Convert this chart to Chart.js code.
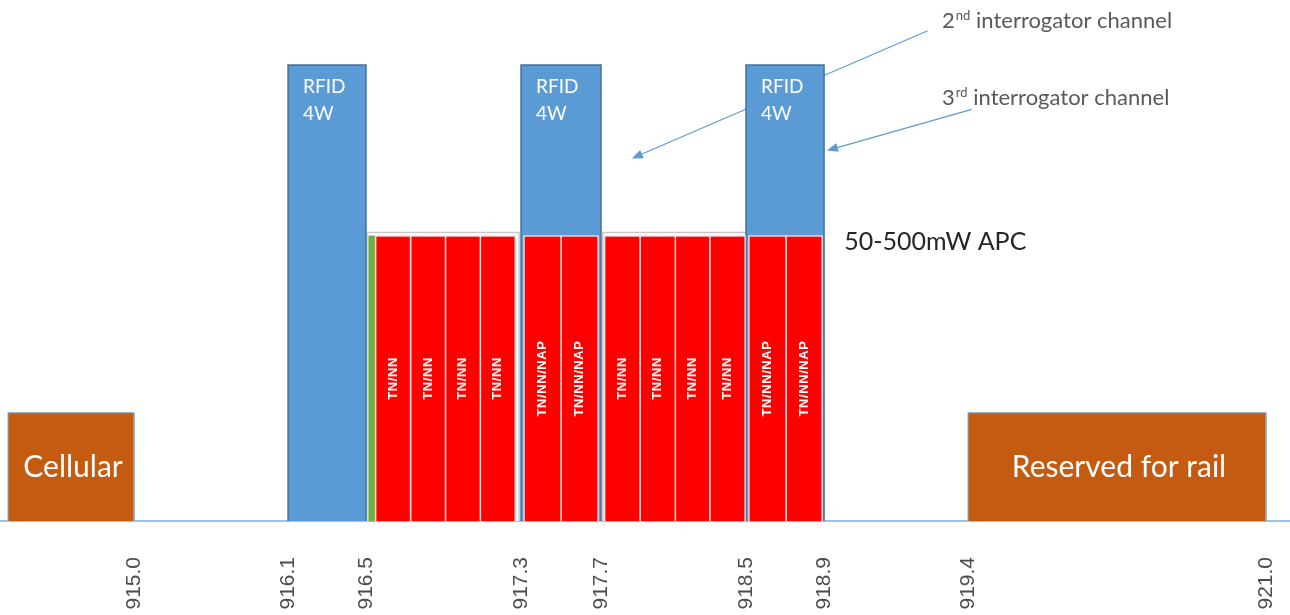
<!DOCTYPE html>
<html>
<head>
<meta charset="utf-8">
<script src="https://cdn.jsdelivr.net/npm/chart.js@4.4.1/dist/chart.umd.min.js"></script>
<style>
html, body { margin: 0; padding: 0; background: #fff; }
#wrap { width: 1290px; height: 615px; }
</style>
</head>
<body>
<div id="wrap"><canvas id="bandPlan"></canvas></div>
<script>
// frequencies labelled under the plan (MHz)
var tickFreqs = [915.0, 916.1, 916.5, 917.3, 917.7, 918.5, 918.9, 919.4, 921.0];

// wide blocks either side of the RFID band
var bandNames = ['Cellular', 'Reserved for rail'];
var bandFrom = [914.1, 919.4];
var bandTo = [915.0, 921.0];
var bandLevel = 0.95;

// 4W interrogator channels
var rfidFrom = [916.1, 917.3, 918.5];
var rfidTo = [916.5, 917.7, 918.9];
var rfidLevel = 4;

// 50-500mW APC channels (as drawn, a little inset in each group)
var chFrom = [916.55, 916.73, 916.91, 917.09, 917.315, 917.5, 917.72, 917.915, 918.11, 918.3, 918.515, 918.705];
var chTo = [916.73, 916.91, 917.09, 917.27, 917.5, 917.685, 917.915, 918.11, 918.3, 918.495, 918.705, 918.89];
var chNames = ['TN/NN', 'TN/NN', 'TN/NN', 'TN/NN', 'TN/NN/NAP', 'TN/NN/NAP',
	'TN/NN', 'TN/NN', 'TN/NN', 'TN/NN', 'TN/NN/NAP', 'TN/NN/NAP'];
var apcLevel = 2.5;

// green guard sliver and the outlines round the APC groups
var guardFrom = [916.515];
var guardTo = [916.545];
var groupFrom = [916.505, 917.71];
var groupTo = [917.29, 918.5];
var groupLevel = 2.53;

// linear axis that is stretched piece by piece between the labelled frequencies
class BrokenLinearScale extends Chart.LinearScale {
	_fraction(value) {
		var v = this.options.anchors, f = this.options.anchorPos, i = 0;
		while (i < v.length - 2 && value > v[i + 1]) i++;
		return f[i] + (value - v[i]) * (f[i + 1] - f[i]) / (v[i + 1] - v[i]);
	}
	getPixelForValue(value) {
		if (value === null || value === undefined) return NaN;
		return this.getPixelForDecimal(this._fraction(value));
	}
	getValueForPixel(pixel) {
		var d = this.getDecimalForPixel(pixel);
		var v = this.options.anchors, f = this.options.anchorPos, i = 0;
		while (i < f.length - 2 && d > f[i + 1]) i++;
		return v[i] + (d - f[i]) * (v[i + 1] - v[i]) / (f[i + 1] - f[i]);
	}
}
BrokenLinearScale.id = 'brokenLinear';
BrokenLinearScale.defaults = Chart.LinearScale.defaults;
Chart.register(BrokenLinearScale);

function box(x0, x1, h) {
	return [{x: x0, y: 0}, {x: x0, y: h}, {x: x1, y: h}, {x: x1, y: 0}];
}

function boxes(from, to, level, style) {
	return from.map(function (x0, i) {
		return Object.assign({
			data: box(x0, to[i], level),
			fill: 'origin',
			pointRadius: 0,
			tension: 0,
			borderJoinStyle: 'miter'
		}, style);
	});
}

var datasets = [].concat(
	boxes(chFrom, chTo, apcLevel, {backgroundColor: '#ff0000', borderColor: 'rgba(255,215,215,0.95)', borderWidth: 1.5, order: 0}),
	boxes(guardFrom, guardTo, apcLevel, {backgroundColor: '#70ad47', borderColor: '#70ad47', borderWidth: 1, order: 1}),
	boxes(rfidFrom, rfidTo, rfidLevel, {backgroundColor: '#5b9bd5', borderColor: '#41719c', borderWidth: 1.5, order: 2}),
	boxes(groupFrom, groupTo, groupLevel, {backgroundColor: '#ffffff', borderColor: '#c8c8c8', borderWidth: 1.5, order: 3}),
	boxes(bandFrom, bandTo, bandLevel, {backgroundColor: '#c55a11', borderColor: '#8ea9c8', borderWidth: 1, order: 4})
);

var planLabels = {
	id: 'planLabels',
	beforeDatasetsDraw: function (chart, args, opts) {
		var ctx = chart.ctx, xs = chart.scales.x, ys = chart.scales.y;
		ctx.save();
		ctx.strokeStyle = opts.arrowColor;
		ctx.fillStyle = opts.arrowColor;
		ctx.lineWidth = 1.2;
		opts.arrows.forEach(function (a) {
			var x0 = xs.getPixelForValue(a.from[0]), y0 = ys.getPixelForValue(a.from[1]);
			var x1 = xs.getPixelForValue(a.to[0]), y1 = ys.getPixelForValue(a.to[1]);
			var c = Math.cos(Math.atan2(y1 - y0, x1 - x0)), s = Math.sin(Math.atan2(y1 - y0, x1 - x0));
			ctx.beginPath();
			ctx.moveTo(x0, y0);
			ctx.lineTo(x1 - 8 * c, y1 - 8 * s);
			ctx.stroke();
			ctx.beginPath();
			ctx.moveTo(x1, y1);
			ctx.lineTo(x1 - 11 * c + 4.5 * s, y1 - 11 * s - 4.5 * c);
			ctx.lineTo(x1 - 11 * c - 4.5 * s, y1 - 11 * s + 4.5 * c);
			ctx.closePath();
			ctx.fill();
		});
		ctx.restore();
	},
	afterDatasetsDraw: function (chart, args, opts) {
		var ctx = chart.ctx, xs = chart.scales.x, ys = chart.scales.y;
		ctx.save();
		ctx.textBaseline = 'middle';

		// band names
		ctx.fillStyle = '#ffffff';
		ctx.textAlign = 'center';
		ctx.font = '30px Lato';
		bandNames.forEach(function (name, i) {
			var cx = (xs.getPixelForValue(bandFrom[i]) + xs.getPixelForValue(bandTo[i])) / 2;
			ctx.fillText(name, cx + 2, ys.getPixelForValue(bandLevel / 2));
		});

		// RFID 4W
		ctx.textAlign = 'left';
		ctx.font = '19px Lato';
		rfidFrom.forEach(function (f) {
			var left = xs.getPixelForValue(f) + 15, top = ys.getPixelForValue(rfidLevel);
			ctx.fillText('RFID', left, top + 22);
			ctx.fillText('4W', left, top + 49);
		});

		// channel names, rotated
		ctx.textAlign = 'center';
		ctx.font = 'bold 13px "Liberation Sans"';
		ctx.letterSpacing = '0.6px';
		chNames.forEach(function (name, i) {
			var cx = (xs.getPixelForValue(chFrom[i]) + xs.getPixelForValue(chTo[i])) / 2;
			ctx.save();
			ctx.translate(cx, ys.getPixelForValue(apcLevel / 2));
			ctx.rotate(-Math.PI / 2);
			ctx.fillText(name, 0, 0);
			ctx.restore();
		});
		ctx.letterSpacing = '0px';

		// APC note
		ctx.textAlign = 'left';
		ctx.fillStyle = '#262626';
		ctx.font = '25px Lato';
		ctx.fillText(opts.apc.text, xs.getPixelForValue(opts.apc.at[0]), ys.getPixelForValue(opts.apc.at[1]));

		// interrogator notes with superscripts
		ctx.fillStyle = '#595959';
		opts.notes.forEach(function (n) {
			var px = xs.getPixelForValue(n.at[0]), py = ys.getPixelForValue(n.at[1]);
			ctx.font = '22px Lato';
			ctx.fillText(n.lead, px, py);
			px += ctx.measureText(n.lead).width + 1;
			ctx.font = '13px Lato';
			ctx.fillText(n.sup, px, py - 5);
			px += ctx.measureText(n.sup).width;
			ctx.font = '22px Lato';
			ctx.fillText(' ' + n.text, px, py);
		});
		ctx.restore();
	}
};

var planChart = new Chart(document.getElementById('bandPlan').getContext('2d'), {
	type: 'line',
	data: {datasets: datasets},
	plugins: [planLabels],
	options: {
		responsive: true,
		maintainAspectRatio: false,
		animation: false,
		events: [],
		layout: {padding: 0},
		plugins: {
			legend: {display: false},
			tooltip: {enabled: false},
			planLabels: {
				arrowColor: '#5b9bd5',
				arrows: [
					{from: [919.26, 4.30], to: [917.87, 3.18]},
					{from: [919.42, 3.61], to: [918.91, 3.25]}
				],
				notes: [
					{lead: '2', sup: 'nd', text: 'interrogator channel', at: [919.31, 4.39]},
					{lead: '3', sup: 'rd', text: 'interrogator channel', at: [919.31, 3.71]}
				],
				apc: {text: '50-500mW APC', at: [918.97, 2.45]}
			}
		},
		scales: {
			x: {
				type: 'brokenLinear',
				min: 914.05,
				max: 921.13,
				anchors: tickFreqs,
				anchorPos: [0.1039, 0.2233, 0.2837, 0.4039, 0.4659, 0.5783, 0.6388, 0.7504, 0.9814],
				afterBuildTicks: function (axis) {
					axis.ticks = tickFreqs.map(function (v) { return {value: v}; });
				},
				afterFit: function (axis) {
					axis.height = 94;
					axis.paddingLeft = 0;
					axis.paddingRight = 0;
				},
				grid: {color: 'rgba(0,0,0,0)', drawTicks: false},
				border: {color: '#9dc3e6', width: 2},
				ticks: {
					autoSkip: false,
					minRotation: 90,
					maxRotation: 90,
					padding: 36,
					color: '#4d4d4d',
					font: {family: 'Liberation Sans', size: 21},
					callback: function (v) { return Number(v).toFixed(1); }
				}
			},
			y: {
				display: false,
				min: 0,
				max: 4.57
			}
		}
	}
});
</script>
</body>
</html>
